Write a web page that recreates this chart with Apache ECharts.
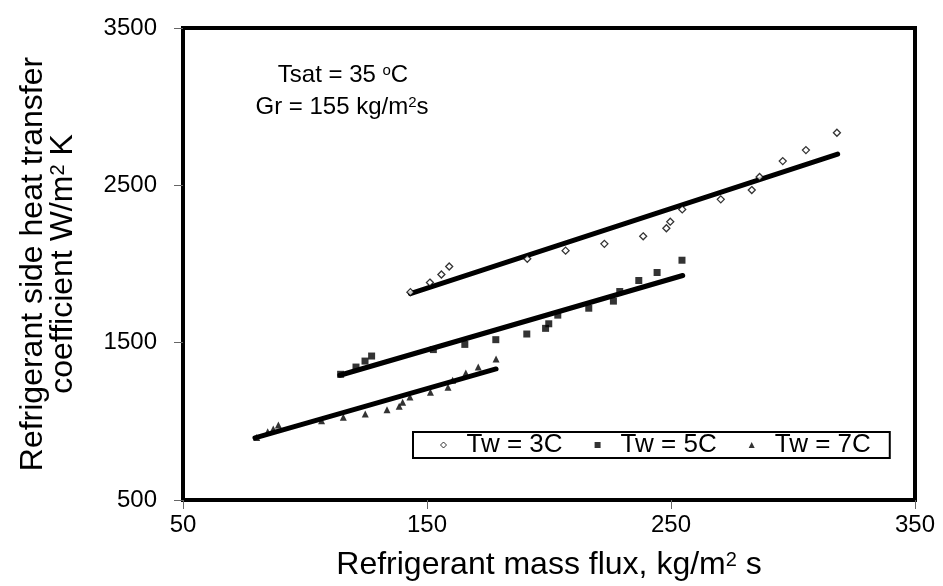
<!DOCTYPE html>
<html>
<head>
<meta charset="utf-8">
<script src="https://cdn.jsdelivr.net/npm/echarts@6/dist/echarts.min.js"></script>
<style>
  html, body { margin: 0; padding: 0; background: #fff; }
  #chart { width: 943px; height: 586px; }
</style>
</head>
<body>
<div id="chart"></div>
<script>
// measured points, Tw = 3C
const tw3Flux = [143.2, 151.2, 155.9, 159.1, 191.1, 206.8, 222.7, 238.6, 248.1, 249.7, 254.6, 270.4, 283.1, 286.3, 295.8, 305.3, 318.0];
const tw3Htc = [1821, 1882, 1933, 1984, 2033, 2085, 2128, 2176, 2227, 2269, 2347, 2411, 2470, 2553, 2654, 2724, 2834];
// Tw = 5C
const tw5Flux = [114.6, 120.9, 124.6, 127.3, 152.6, 165.5, 178.2, 190.9, 198.6, 199.9, 203.6, 216.3, 226.4, 229.0, 236.8, 244.3, 254.5];
const tw5Htc = [1299, 1345, 1383, 1415, 1456, 1489, 1519, 1555, 1591, 1620, 1675, 1719, 1764, 1825, 1895, 1946, 2024];
// Tw = 7C
const tw7Flux = [80.2, 84.7, 87.0, 89.1, 106.8, 115.7, 124.7, 133.6, 138.6, 140.0, 143.0, 151.4, 158.6, 160.5, 165.9, 171.0, 178.3];
const tw7Htc = [898, 933, 952, 977, 1003, 1026, 1047, 1073, 1096, 1121, 1155, 1185, 1217, 1261, 1307, 1345, 1396];

// trend lines, [start, end]
const fit3 = [[143.2, 1811], [318.3, 2699]];
const fit5 = [[114.3, 1293], [254.8, 1927]];
const fit7 = [[79.5, 895], [178.3, 1333]];

const seriesNames = ['Tw = 3C', 'Tw = 5C', 'Tw = 7C'];

const font = 'Liberation Sans, Arial, sans-serif';

function pairs(xs, ys) {
    return xs.map((x, i) => [x, ys[i]]);
}

const fitLine = (data) => ({
    type: 'line',
    data: data,
    symbol: 'none',
    silent: true,
    lineStyle: { color: '#000', width: 5, cap: 'round' },
    z: 1,
});

const chart = echarts.init(document.getElementById('chart'));

chart.setOption({
    animation: false,
    textStyle: { fontFamily: font },
    grid: {
        left: 183,
        right: 28,
        top: 28,
        bottom: 86,
        show: true,
        borderColor: '#000',
        borderWidth: 4,
    },
    legend: {
        data: [
            { name: seriesNames[0], icon: 'diamond', itemStyle: { color: '#fff', borderColor: '#000', borderWidth: 1 } },
            { name: seriesNames[1], icon: 'rect' },
            { name: seriesNames[2], icon: 'triangle' },
        ],
        left: 413,
        top: 432,
        orient: 'horizontal',
        itemWidth: 6,
        itemHeight: 6,
        itemGap: 32,
        padding: [0, 19, 0, 27],
        borderColor: '#000',
        borderWidth: 2,
        backgroundColor: '#fff',
        textStyle: { fontSize: 26, lineHeight: 26, color: '#000', fontFamily: font, padding: [0, 0, 0, 15] },
    },
    xAxis: {
        type: 'value',
        min: 50,
        max: 350,
        interval: 100,
        splitLine: { show: false },
        axisLine: { show: true, lineStyle: { color: '#000', width: 4 } },
        axisTick: { show: true, inside: false, length: 9, lineStyle: { color: '#666', width: 1 } },
        axisLabel: { color: '#000', fontSize: 24, margin: 13, formatter: (v) => String(v) },
        name: '{a|Refrigerant mass flux, kg/m}{s|2}{a| s}',
        nameLocation: 'middle',
        nameGap: 50,
        nameTextStyle: {
            rich: {
                a: { fontSize: 32, color: '#000', fontFamily: font, lineHeight: 30 },
                s: { fontSize: 20, color: '#000', fontFamily: font, lineHeight: 30, verticalAlign: 'top', padding: [0, 0, 10, 0] },
            },
        },
    },
    yAxis: {
        type: 'value',
        min: 500,
        max: 3500,
        interval: 1000,
        splitLine: { show: false },
        axisLine: { show: true, lineStyle: { color: '#000', width: 4 } },
        axisTick: { show: true, inside: false, length: 9, lineStyle: { color: '#666', width: 1 } },
        axisLabel: { color: '#000', fontSize: 24, margin: 26, formatter: (v) => String(v) },
        name: '{a|Refrigerant side heat transfer}\n{a|coefficient W/m}{s|2}{a| K}',
        nameLocation: 'middle',
        nameGap: 105,
        nameTextStyle: {
            align: 'center',
            rich: {
                a: { fontSize: 32, color: '#000', fontFamily: font, lineHeight: 30 },
                s: { fontSize: 20, color: '#000', fontFamily: font, lineHeight: 30, verticalAlign: 'top', padding: [0, 0, 10, 0] },
            },
        },
    },
    graphic: [
        {
            type: 'text',
            x: 343,
            y: 75,
            style: {
                text: 'Tsat = 35 {s|o}C',
                font: '24px Liberation Sans',
                fill: '#000',
                align: 'center',
                verticalAlign: 'middle',
                rich: {
                    s: { fontSize: 15, fontFamily: font, fill: '#000', verticalAlign: 'top', padding: [0, 0, 9, 0] },
                },
            },
        },
        {
            type: 'text',
            x: 342,
            y: 107,
            style: {
                text: 'Gr = 155 kg/m{s|2}s',
                font: '24px Liberation Sans',
                fill: '#000',
                align: 'center',
                verticalAlign: 'middle',
                rich: {
                    s: { fontSize: 15, fontFamily: font, fill: '#000', verticalAlign: 'top', padding: [0, 0, 9, 0] },
                },
            },
        },
    ],
    series: [
        {
            name: seriesNames[0],
            type: 'scatter',
            symbol: 'diamond',
            symbolSize: 7,
            data: pairs(tw3Flux, tw3Htc),
            itemStyle: { color: '#fff', borderColor: '#000', borderWidth: 1.3 },
            z: 3,
        },
        {
            name: seriesNames[1],
            type: 'scatter',
            symbol: 'rect',
            symbolSize: 7,
            data: pairs(tw5Flux, tw5Htc),
            itemStyle: { color: '#000' },
            z: 3,
        },
        {
            name: seriesNames[2],
            type: 'scatter',
            symbol: 'triangle',
            symbolSize: 7,
            data: pairs(tw7Flux, tw7Htc),
            itemStyle: { color: '#000' },
            z: 3,
        },
        fitLine(fit3),
        fitLine(fit5),
        fitLine(fit7),
    ],
});
</script>
</body>
</html>
